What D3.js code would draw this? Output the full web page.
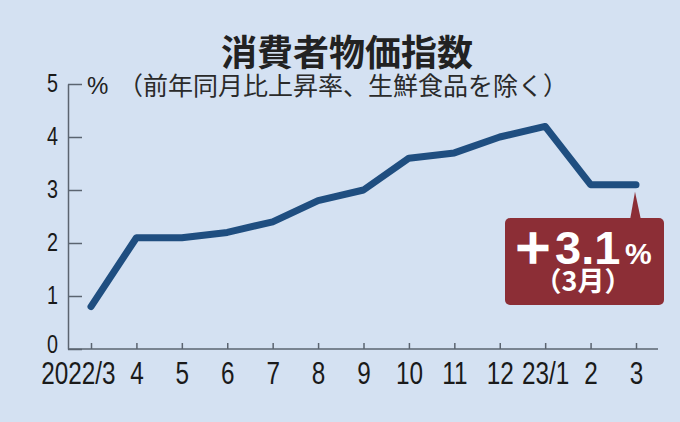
<!DOCTYPE html>
<html>
<head>
<meta charset="utf-8">
<script src="https://cdn.jsdelivr.net/npm/d3@7"></script>
<style>
  body { margin: 0; background: #d4e1f2; }
  .tick text { font-family: "Liberation Sans", sans-serif; fill: #1a1a1a; }
</style>
</head>
<body>
<div class="cpi-chart"></div>
<script>
// Data.
let months = ['2022/3', '4', '5', '6', '7', '8', '9', '10', '11', '12', '23/1', '2', '3'];
let cpi = [0.8, 2.1, 2.1, 2.2, 2.4, 2.8, 3.0, 3.6, 3.7, 4.0, 4.2, 3.1, 3.1];
let yTicks = [0, 1, 2, 3, 4, 5];
let title = '消費者物価指数';
let subtitle = '（前年同月比上昇率、生鮮食品を除く）';
let latestLabel = '3.1';
let latestMonth = '（3月）';

// Build constants.
let width = 680,
    height = 422,
    squeeze = 0.76, // narrow tick font
    axisColor = '#5b6470',
    lineColor = '#1f4e80',
    boxColor = '#8c2e36';

let svg = d3.select('.cpi-chart')
    .append('svg')
        .attr('width', width)
        .attr('height', height);

svg.append('rect')
    .attr('width', width)
    .attr('height', height)
    .attr('fill', '#d4e1f2');

// Scales.
let x = d3.scalePoint()
    .domain(months)
    .range([91, 636]);

let y = d3.scaleLinear()
    .domain([0, 5])
    .range([349, 84]);

// Title.
svg.append('text')
    .attr('x', 347)
    .attr('y', 66)
    .attr('text-anchor', 'middle')
    .attr('font-family', '"Noto Sans CJK JP", sans-serif')
    .attr('font-weight', 'bold')
    .attr('font-size', 36)
    .attr('fill', '#222')
    .text(title);

svg.append('text')
    .attr('x', 87)
    .attr('y', 94)
    .attr('font-family', '"Liberation Sans", sans-serif')
    .attr('font-size', 24)
    .attr('fill', '#222')
    .text('%');

svg.append('text')
    .attr('x', 118)
    .attr('y', 95)
    .attr('font-family', '"Noto Sans CJK JP", sans-serif')
    .attr('font-size', 25)
    .attr('fill', '#2a2a2a')
    .text(subtitle);

// Y axis.
let yAxis = svg.append('g')
    .attr('transform', `translate(68, 0)`)
    .call(d3.axisLeft(y)
        .tickValues(yTicks)
        .tickFormat(d3.format('d'))
        .tickSize(-14)
        .tickSizeOuter(0)
        .tickPadding(10));

yAxis.select('.domain').attr('stroke', axisColor).attr('stroke-width', 1.5);
yAxis.selectAll('.tick line').attr('stroke', axisColor).attr('stroke-width', 1.5);
yAxis.selectAll('.tick text')
    .attr('font-size', 26)
    .attr('x', -10 / squeeze)
    .attr('transform', `scale(${squeeze}, 1)`)
    .attr('dy', d => d === 0 ? '0.12em' : '0.3em');

// X axis.
let xAxis = svg.append('g')
    .attr('transform', `translate(0, ${y(0)})`)
    .call(d3.axisBottom(x)
        .tickSize(-6)
        .tickPadding(12));

xAxis.select('.domain').remove();
xAxis.append('line')
    .attr('x1', 68)
    .attr('x2', x(months[months.length - 1]) + 22)
    .attr('stroke', axisColor)
    .attr('stroke-width', 1.5);
xAxis.selectAll('.tick line').attr('stroke', axisColor).attr('stroke-width', 1.5);
xAxis.selectAll('.tick text')
    .attr('font-size', 32)
    .attr('transform', `scale(${squeeze}, 1)`)
    .attr('text-anchor', d => d === months[0] ? 'end' : 'middle')
    .attr('dx', d => d === months[0] ? 24 / squeeze : 0);

// Line.
let line = d3.line()
    .x((d, i) => x(months[i]))
    .y(d => y(d));

svg.append('path')
    .datum(cpi)
    .attr('d', line)
    .attr('fill', 'none')
    .attr('stroke', lineColor)
    .attr('stroke-width', 7)
    .attr('stroke-linecap', 'round')
    .attr('stroke-linejoin', 'round');

// Callout.
let lastX = x(months[months.length - 1]),
    lastY = y(cpi[cpi.length - 1]);

let callout = svg.append('g');

callout.append('path')
    .attr('d', `M${lastX - 6},220 L${lastX - 1},${lastY + 7} L${lastX + 5},220 Z`)
    .attr('fill', boxColor);

callout.append('rect')
    .attr('x', 505)
    .attr('y', 218)
    .attr('width', 159)
    .attr('height', 87)
    .attr('rx', 5)
    .attr('fill', boxColor);

callout.append('text')
    .attr('x', 533)
    .attr('y', 263)
    .attr('text-anchor', 'middle')
    .attr('font-family', '"Noto Sans CJK JP", sans-serif')
    .attr('font-weight', 'bold')
    .attr('font-size', 40)
    .attr('fill', '#fff')
    .attr('stroke', '#fff')
    .attr('stroke-width', 2.5)
    .text('＋');

callout.append('text')
    .attr('x', 555)
    .attr('y', 264)
    .attr('font-family', '"Liberation Sans", sans-serif')
    .attr('font-weight', 'bold')
    .attr('font-size', 47)
    .attr('fill', '#fff')
    .text(latestLabel);

callout.append('text')
    .attr('x', 625)
    .attr('y', 264)
    .attr('font-family', '"Liberation Sans", sans-serif')
    .attr('font-weight', 'bold')
    .attr('font-size', 30)
    .attr('fill', '#fff')
    .text('%');

callout.append('text')
    .attr('x', 583)
    .attr('y', 291)
    .attr('text-anchor', 'middle')
    .attr('font-family', '"Noto Sans CJK JP", sans-serif')
    .attr('font-weight', 'bold')
    .attr('font-size', 27)
    .attr('fill', '#fff')
    .text(latestMonth);
</script>
</body>
</html>
